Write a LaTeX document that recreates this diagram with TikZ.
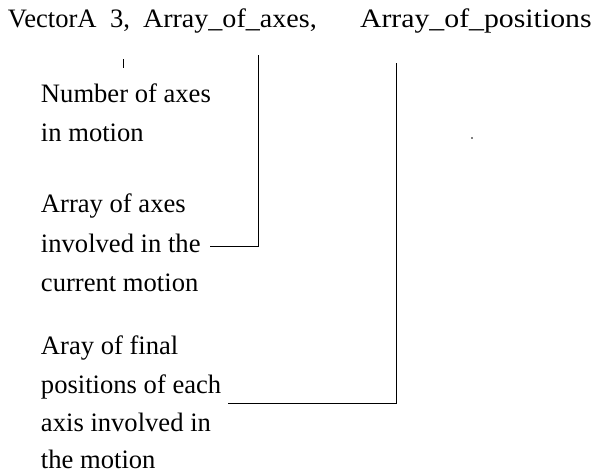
\documentclass[tikz,border=0pt]{standalone}
\usepackage{fontspec}
\setmainfont{Liberation Serif}
\newfontfamily\labelfont{Liberation Serif}
\begin{document}
\begin{tikzpicture}[x=1pt,y=-1pt,
  txt/.style={anchor=base west,inner sep=0pt,outer sep=0pt,
    font=\labelfont\fontsize{26.6}{39}\selectfont},
  lead/.style={line width=1pt,black}]
\useasboundingbox (0,0) rectangle (598,474);
% command line
\node[txt] (cmd)  at (8,27)   {VectorA};
\node[txt] (num)  at (110,27) {3,};
\node[txt] (axs)  at (143,27) {\scalebox{1.055}[1]{Array\_of\_axes,}};
\node[txt] (pos)  at (360,27) {\scalebox{1.12}[1]{Array\_of\_positions}};
% explanations
\node[txt] (n1) at (41,102) {Number of axes};
\node[txt] (n2) at (41,141) {in motion};
\node[txt] (a1) at (41,212) {Array of axes};
\node[txt] (a2) at (41,252) {involved in the};
\node[txt] (a3) at (41,291) {current motion};
\node[txt] (p1) at (41,354) {Aray of final};
\node[txt] (p2) at (41,393) {positions of each};
\node[txt] (p3) at (41,431) {axis involved in};
\node[txt] (p4) at (41,468) {the motion};
% leader lines
\coordinate (numTop) at (123,59);
\coordinate (numBot) at (123,68);
\coordinate (axsTop) at (258,55);
\coordinate (axsEnd) at (210,246);
\coordinate (posTop) at (396,63);
\coordinate (posEnd) at (228,403);
\draw[lead] (numTop) -- (numBot);
\draw[lead] (axsTop) |- (axsEnd);
\draw[lead] (posTop) |- (posEnd);
% stray dot
\fill (472,138) circle (0.9);
\end{tikzpicture}
\end{document}
